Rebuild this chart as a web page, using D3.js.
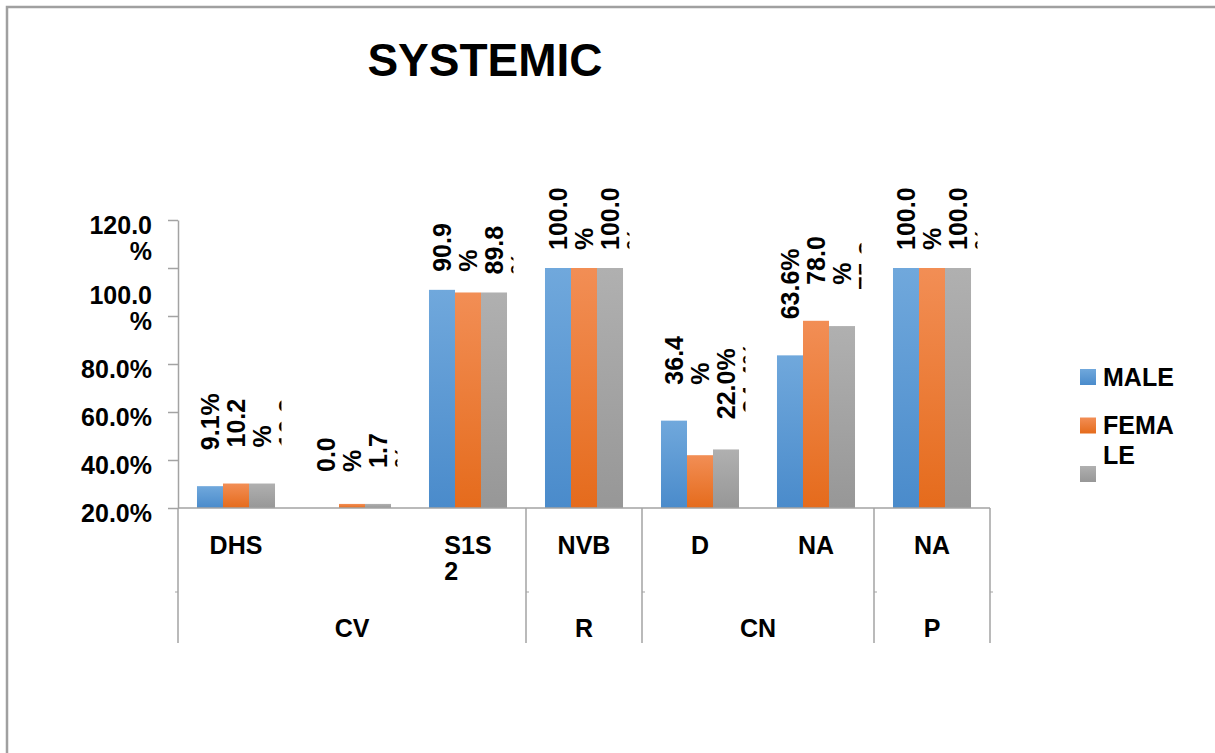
<!DOCTYPE html>
<html>
<head>
<meta charset="utf-8">
<script src="https://cdn.jsdelivr.net/npm/d3@7"></script>
<style>
  html, body { margin: 0; padding: 0; background: #ffffff; }
  svg text { font-family: "Liberation Sans", Arial, sans-serif; font-weight: bold; fill: #000000; }
</style>
</head>
<body>
<svg id="chart" width="1215" height="753"></svg>
<script>
// ---- data ----
const chartTitle = "SYSTEMIC";
const categories = ["DHS", "", "S1S2", "NVB", "D", "NA", "NA"];
const groups = ["CV", "CV", "CV", "R", "CN", "CN", "P"];
const seriesNames = ["MALE", "FEMALE", ""];
const maleValues   = [0.091, 0.000, 0.909, 1.000, 0.364, 0.636, 1.000];
const femaleValues = [0.102, 0.017, 0.898, 1.000, 0.220, 0.780, 1.000];
const thirdValues  = [0.102, 0.017, 0.898, 1.000, 0.244, 0.758, 1.000];
const yTickValues = [0, 0.2, 0.4, 0.6, 0.8, 1.0, 1.2];
const yTickLabels = ["20.0%", "40.0%", "60.0%", "80.0%", "100.0%", "", "120.0%"];
// value labels that break onto a second line before the percent sign
const maleBreak   = [false, true, true, true, true, false, true];
const femaleBreak = [true, true, true, true, false, true, true];
const thirdBreak  = [true, true, true, true, false, true, true];

const seriesValues = [maleValues, femaleValues, thirdValues];
const seriesBreaks = [maleBreak, femaleBreak, thirdBreak];
const colors = [
  ["#70a8dc", "#4a8bcb"],
  ["#f28e55", "#e56b1c"],
  ["#b0b0b0", "#979797"]
];
const axisColor = "#a3a3a3";

const svg = d3.select("#chart");
svg.append("rect").attr("width", 1215).attr("height", 753).attr("fill", "#ffffff");

// chart frame (left and top edges)
svg.append("path").attr("d", "M7,753V7H1215")
  .attr("fill", "none").attr("stroke", "#a0a0a0").attr("stroke-width", 2.5);

// text measuring helper
const measurer = svg.append("text").attr("x", -1000).attr("y", -1000);
function textWidth(str, size) {
  measurer.attr("font-size", size).text(str);
  return measurer.node().getComputedTextLength();
}
// greedy character wrap
function wrap(str, maxW, size) {
  const lines = [];
  let cur = "";
  for (const ch of str) {
    if (cur && textWidth(cur + ch, size) > maxW) { lines.push(cur); cur = ch; }
    else cur += ch;
  }
  lines.push(cur);
  return lines;
}

// ---- scales ----
const x0 = d3.scaleBand().domain(d3.range(categories.length)).range([178, 990]).paddingInner(0).paddingOuter(0);
const x1 = d3.scaleBand().domain(d3.range(seriesNames.length)).range([0, x0.bandwidth()]).paddingInner(0).paddingOuter(0.73);
const y = d3.scaleLinear().domain([0, 1.2]).range([508, 220]);

// gradients
const defs = svg.append("defs");
colors.forEach((c, i) => {
  const g = defs.append("linearGradient").attr("id", "grad" + i)
    .attr("x1", 0).attr("y1", 0).attr("x2", 0).attr("y2", 1);
  g.append("stop").attr("offset", "0%").attr("stop-color", c[0]);
  g.append("stop").attr("offset", "100%").attr("stop-color", c[1]);
});

// ---- title ----
svg.append("text").attr("x", 485).attr("y", 76).attr("text-anchor", "middle")
  .attr("font-size", 46).text(chartTitle);

// ---- bars ----
const barData = [];
categories.forEach((cat, c) => {
  seriesValues.forEach((vals, s) => barData.push({ c, s, v: vals[c] }));
});
svg.append("g").selectAll("rect").data(barData).join("rect")
  .attr("x", d => x0(d.c) + x1(d.s))
  .attr("y", d => y(d.v))
  .attr("width", x1.bandwidth())
  .attr("height", d => y(0) - y(d.v))
  .attr("fill", d => "url(#grad" + d.s + ")");

// ---- y axis ----
const yAxis = d3.axisLeft(y).tickValues(yTickValues).tickSize(10).tickSizeOuter(0).tickFormat("");
const yg = svg.append("g").attr("transform", "translate(178,0)").call(yAxis);
yg.select(".domain").attr("stroke", axisColor).attr("stroke-width", 1.5);
yg.selectAll(".tick line").attr("stroke", axisColor).attr("stroke-width", 1.5);

const tickFont = 25, tickLine = 26;
yTickValues.forEach((v, i) => {
  const label = yTickLabels[i];
  if (!label) return;
  const lines = wrap(label, 76, tickFont);
  // bottom line sits by the tick; blocks never rise above the axis top
  let firstY = y(v) + 5 - (lines.length - 1) * tickLine;
  firstY = Math.max(firstY, y(1.2) + 5);
  lines.forEach((ln, k) => {
    svg.append("text").attr("x", 152).attr("y", firstY + k * tickLine)
      .attr("dy", "0.35em").attr("text-anchor", "end").attr("font-size", tickFont).text(ln);
  });
});

// ---- category axis ----
const base = y(0);
const axisBottom = 643;
svg.append("line").attr("x1", 178).attr("x2", 990).attr("y1", base).attr("y2", base)
  .attr("stroke", axisColor).attr("stroke-width", 1.5);
svg.append("line").attr("x1", 178).attr("x2", 178).attr("y1", base).attr("y2", axisBottom)
  .attr("stroke", axisColor).attr("stroke-width", 1.5);

// group spans
const spans = [];
groups.forEach((g, c) => {
  const last = spans[spans.length - 1];
  if (last && last.name === g) last.end = c;
  else spans.push({ name: g, start: c, end: c });
});
spans.forEach(sp => {
  const right = x0(sp.end) + x0.bandwidth();
  svg.append("line").attr("x1", right).attr("x2", right).attr("y1", base).attr("y2", axisBottom)
    .attr("stroke", axisColor).attr("stroke-width", 1.5);
  svg.append("line").attr("x1", right).attr("x2", right + 3).attr("y1", 592).attr("y2", 592)
    .attr("stroke", axisColor).attr("stroke-width", 1);
  const cx = (x0(sp.start) + right) / 2;
  svg.append("text").attr("x", cx).attr("y", 628).attr("dy", "0.35em")
    .attr("text-anchor", "middle").attr("font-size", 25).text(sp.name);
});
svg.append("line").attr("x1", 175).attr("x2", 178).attr("y1", 592).attr("y2", 592)
  .attr("stroke", axisColor).attr("stroke-width", 1);

// category labels (wrapped, lines left-aligned inside a centred block)
const catFont = 25;
categories.forEach((cat, c) => {
  if (!cat) return;
  const lines = wrap(cat, 56, catFont);
  const blockW = d3.max(lines, l => textWidth(l, catFont));
  const cx = x0(c) + x0.bandwidth() / 2;
  lines.forEach((ln, k) => {
    svg.append("text").attr("x", cx - blockW / 2).attr("y", 545 + k * 26)
      .attr("dy", "0.35em").attr("font-size", catFont).text(ln);
  });
});

// ---- value labels: rotated, flowing line by line across each category ----
const fmt = d3.format(".1%");
const labelFont = 25, labelStep = 26;
const labelLayer = svg.append("g");
categories.forEach((cat, c) => {
  const m = x0(c) + x1(0) + x1.bandwidth() / 2;
  const clipId = "clip" + c;
  defs.append("clipPath").attr("id", clipId).append("rect")
    .attr("x", m - 20).attr("y", 0).attr("width", 91.5).attr("height", base);
  const g = labelLayer.append("g").attr("clip-path", "url(#" + clipId + ")");
  let slot = 0;
  seriesValues.forEach((vals, s) => {
    const v = vals[c];
    const txt = fmt(v);
    const lines = seriesBreaks[s][c] ? [txt.slice(0, -1), "%"] : [txt];
    const startY = y(v) - (v > 0.85 ? 18 : 36);
    lines.forEach(ln => {
      const lx = m + slot * labelStep;
      g.append("text")
        .attr("transform", `translate(${lx},${startY}) rotate(-90)`)
        .attr("dy", "0.35em").attr("font-size", labelFont).text(ln);
      slot++;
    });
  });
});

// ---- legend ----
const legendFont = 25;
seriesNames.forEach((name, i) => {
  const cy = 377 + i * 48.5;
  svg.append("rect").attr("x", 1080).attr("y", cy - 8).attr("width", 16).attr("height", 16)
    .attr("fill", "url(#grad" + i + ")");
  if (!name) return;
  wrap(name, 76, legendFont).forEach((ln, k) => {
    svg.append("text").attr("x", 1103).attr("y", cy + k * 29.5).attr("dy", "0.35em")
      .attr("font-size", legendFont).text(ln);
  });
});
measurer.remove();
</script>
</body>
</html>
